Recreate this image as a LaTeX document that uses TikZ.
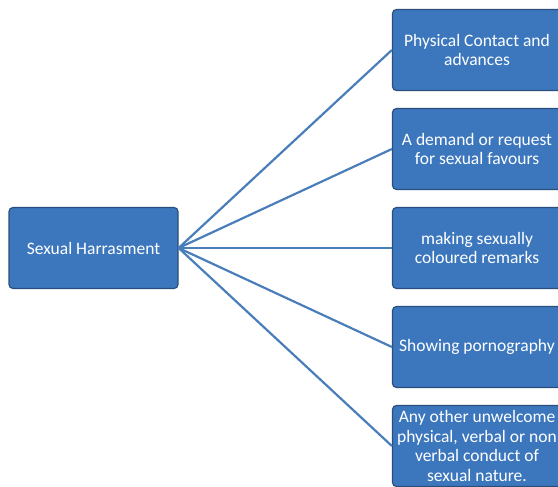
\documentclass[tikz,border=0pt]{standalone}
\usepackage{fontspec}
\setmainfont{Carlito}
\definecolor{boxblue}{HTML}{3C77BE}
\definecolor{boxedge}{HTML}{2B4F7C}
\definecolor{linkblue}{HTML}{4A7EBB}
\begin{document}
\begin{tikzpicture}[
            x=1pt, y=-1pt,
            grow=right,
            level distance=383.5pt,
            level 1/.style={sibling distance=99pt},
            box/.style={draw=boxedge, line width=1.2pt, fill=boxblue, rounded corners=4pt,
                    text=white, align=center, font=\fontsize{17.5}{19.5}\selectfont,
                    minimum width=169pt, minimum height=81pt, inner sep=1pt},
            edge from parent/.style={draw=linkblue, line width=2.2pt},
            edge from parent path={(\tikzparentnode.east) -- (\tikzchildnode.west)}
        ]
        \useasboundingbox[fill=white] (0,0) rectangle (558,487);
        \node[box] (harass) at (93.5,248) {Sexual Harrasment}
        child {node[box] (other) {Any other unwelcome\\physical, verbal or non\\verbal conduct of\\sexual nature.}}
        child {node[box] (porn) {Showing pornography}}
        child {node[box] (remarks) {making sexually\\coloured remarks}}
        child {node[box] (demand) {A demand or request\\for sexual favours}}
        child {node[box] (contact) {Physical Contact and\\advances}};
    \end{tikzpicture}
\end{document}
